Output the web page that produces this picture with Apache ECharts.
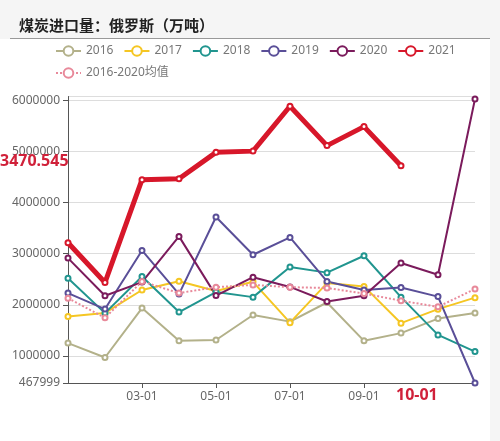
<!DOCTYPE html>
<html>
<head>
<meta charset="utf-8">
<script src="https://cdn.jsdelivr.net/npm/echarts@6/dist/echarts.min.js"></script>
<style>
  html, body { margin: 0; padding: 0; background: #f5f5f5; }
  #main { width: 500px; height: 441px; }
</style>
</head>
<body>
<div id="main"></div>
<script>
// 月份（横轴）
var months = ['01-01', '02-01', '03-01', '04-01', '05-01', '06-01', '07-01', '08-01', '09-01', '10-01', '11-01', '12-01'];

// 各年数据（吨）
var y2016 = [1250000, 967000, 1935000, 1294000, 1310000, 1800000, 1670000, 2045000, 1294000, 1445000, 1730000, 1837000];
var y2017 = [1770000, 1840000, 2290000, 2460000, 2270000, 2450000, 1650000, 2425000, 2360000, 1640000, 1915000, 2140000];
var y2018 = [2520000, 1837000, 2555000, 1857000, 2250000, 2150000, 2740000, 2630000, 2960000, 2150000, 1410000, 1084000];
var y2019 = [2230000, 1916000, 3065000, 2210000, 3720000, 2980000, 3320000, 2457000, 2290000, 2340000, 2160000, 467999];
var y2020 = [2915000, 2176000, 2445000, 3340000, 2180000, 2540000, 2350000, 2065000, 2176000, 2820000, 2588000, 6030000];
var y2021 = [3216000, 2437000, 4451000, 4470000, 4986000, 5010000, 5889000, 5118000, 5490000, 4725000, null, null];
var avg1620 = [2130000, 1745000, 2457000, 2230000, 2345000, 2390000, 2345000, 2330000, 2220000, 2080000, 1960000, 2310000];

var yMax = 6080000;
var pointerY = '3470.545';
var pointerX = '10-01';

var chart = echarts.init(document.getElementById('main'));

function line(name, data, color, width, dotted) {
  return {
    name: name,
    type: 'line',
    data: data,
    symbol: 'emptyCircle',
    symbolSize: 5,
    showAllSymbol: true,
    itemStyle: { color: color, borderWidth: 1 },
    lineStyle: { color: color, width: width, type: dotted ? 'dotted' : 'solid' }
  };
}

function shown(i) {
  return i === 2 || i === 4 || i === 6 || i === 8;
}

var font = '"Noto Sans", "Noto Sans CJK SC", sans-serif';

chart.setOption({
  backgroundColor: '#f5f5f5',
  textStyle: { fontFamily: font },
  animation: false,
  title: {
    text: '煤炭进口量：俄罗斯（万吨）',
    left: 14,
    top: 13,
    textStyle: { fontSize: 15, fontWeight: 'bold', color: '#222', fontFamily: '"Noto Sans CJK SC", sans-serif' }
  },
  graphic: [
    { type: 'rect', z: -10, shape: { x: 0, y: 39, width: 490, height: 402 }, style: { fill: '#fff' } },
    { type: 'line', z: -9, shape: { x1: 10, y1: 38.5, x2: 490, y2: 38.5 }, style: { stroke: '#999', lineWidth: 1 } },
    { type: 'text', z: 50, left: 0, top: 153, style: { text: pointerY, fill: '#d0213a', font: 'bold 16px ' + font } },
    { type: 'text', z: 50, left: 396, top: 387, style: { text: pointerX, fill: '#d0213a', font: 'bold 16px ' + font } }
  ],
  legend: {
    left: 50,
    right: 10,
    top: 40,
    itemWidth: 25,
    itemHeight: 12,
    itemGap: 10,
    textStyle: { color: '#777', fontSize: 12 },
    data: ['2016', '2017', '2018', '2019', '2020', '2021', '2016-2020均值']
  },
  grid: { left: 68, right: 25, top: 96.5, bottom: 58 },
  xAxis: {
    type: 'category',
    data: months,
    boundaryGap: false,
    axisLine: { lineStyle: { color: '#555' } },
    axisTick: { interval: function (i) { return shown(i); }, lineStyle: { color: '#555' } },
    axisLabel: { interval: function (i) { return shown(i); }, color: '#666', fontSize: 12, margin: 8 },
    splitLine: { show: false }
  },
  yAxis: {
    type: 'value',
    min: 'dataMin',
    max: yMax,
    axisLine: { show: true, lineStyle: { color: '#555' } },
    axisTick: { show: true, lineStyle: { color: '#555' } },
    axisLabel: { color: '#666', fontSize: 12, formatter: function (v) { return String(v); } },
    splitLine: { lineStyle: { color: '#ddd' } }
  },
  series: [
    line('2016', y2016, '#b3b18a', 2),
    line('2017', y2017, '#f5c623', 2),
    line('2018', y2018, '#21958f', 2),
    line('2019', y2019, '#5a4f98', 2),
    line('2020', y2020, '#7b1b5c', 2),
    line('2021', y2021, '#d7172a', 5),
    line('2016-2020均值', avg1620, '#e8899a', 2, true)
  ]
});
</script>
</body>
</html>
